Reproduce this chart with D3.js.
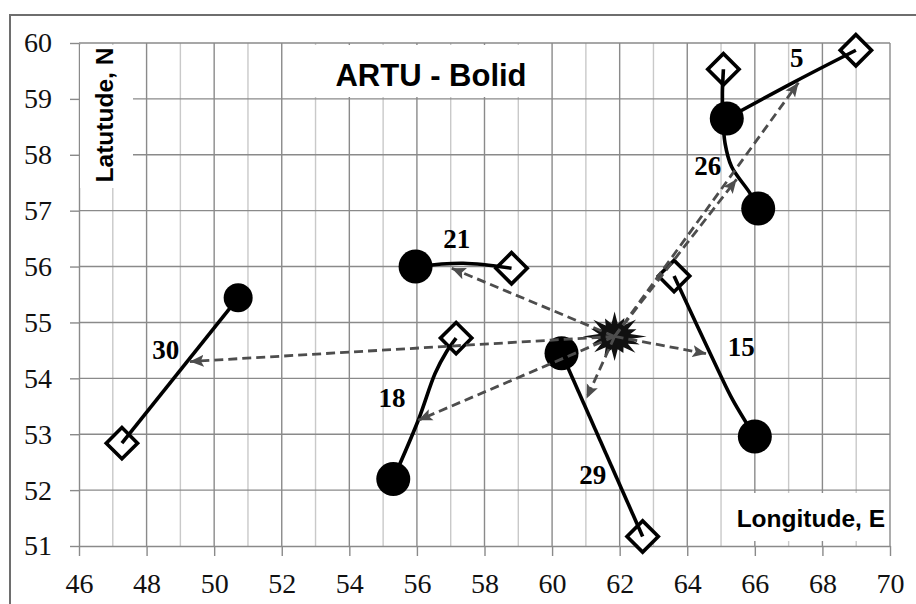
<!DOCTYPE html>
<html>
<head>
<meta charset="utf-8">
<script src="https://cdn.jsdelivr.net/npm/d3@7"></script>
<style>
  html, body { margin: 0; padding: 0; background: #fff; }
  svg { display: block; }
</style>
</head>
<body>
<svg id="chart" width="916" height="604"></svg>
<script>
// Axis ticks
const xTickValues = [46, 48, 50, 52, 54, 56, 58, 60, 62, 64, 66, 68, 70];
const yTickValues = [51, 52, 53, 54, 55, 56, 57, 58, 59, 60];

// Bolide tracks: start point (filled circle) to end point (open diamond)
const trackIds = ["30", "21", "18", "29", "15", "26", "5"];
const startLon = [50.71, 55.96, 55.30, 60.28, 66.00, 66.10, 65.17];
const startLat = [55.44, 56.00, 52.20, 54.45, 52.96, 57.04, 58.65];
const endLon   = [47.27, 58.80, 57.16, 62.68, 63.61, 65.07, 68.99];
const endLat   = [52.84, 55.97, 54.72, 51.17, 55.83, 59.53, 59.87];

// Intermediate points of each track, [lon, lat]
const via30 = [];
const via21 = [[57.37, 56.06]];
const via18 = [[56.04, 53.25], [56.54, 54.09], [56.88, 54.48]];
const via29 = [];
const via15 = [[65.35, 53.61], [64.91, 54.15]];
const via26 = [[65.86, 57.31], [65.31, 57.79], [65.12, 58.20], [65.05, 58.70], [65.04, 59.10]];
const via5  = [[67.19, 59.31]];
const trackVia = [via30, via21, via18, via29, via15, via26, via5];

// Track label anchors
const labelLon = [48.57, 57.18, 55.26, 61.20, 65.60, 64.61, 67.24];
const labelLat = [54.51, 56.49, 53.65, 52.27, 54.56, 57.80, 59.73];

// ARTU station and direction arrows to each track
const stationLon = 61.85;
const stationLat = 54.75;
const arrowLon = [49.28, 57.03, 56.04, 61.02, 64.57, 65.46, 67.29];
const arrowLat = [54.30, 55.97, 53.25, 53.64, 54.44, 57.56, 59.29];

const svg = d3.select("#chart");

const x = d3.scaleLinear().domain([46, 70]).range([79, 890]);
const y = d3.scaleLinear().domain([51, 60]).range([546, 43]);

// outer frame (open to the right and bottom)
svg.append("rect")
  .attr("x", 10).attr("y", 15).attr("width", 940).attr("height", 640)
  .attr("fill", "none").attr("stroke", "#6e6e6e").attr("stroke-width", 2);

// grid
const grid = svg.append("g");
grid.selectAll("line.v")
  .data(d3.range(47, 70))
  .join("line")
  .attr("x1", d => x(d)).attr("x2", d => x(d))
  .attr("y1", y(51)).attr("y2", y(60))
  .attr("stroke", d => d % 2 === 0 ? "#8a8a8a" : "#c9c9c9")
  .attr("stroke-width", 1.4);
grid.selectAll("line.h")
  .data(d3.range(52, 61))
  .join("line")
  .attr("x1", x(46)).attr("x2", x(70))
  .attr("y1", d => y(d)).attr("y2", d => y(d))
  .attr("stroke", "#8a8a8a")
  .attr("stroke-width", 1.4);
grid.append("line")
  .attr("x1", x(70)).attr("x2", x(70)).attr("y1", y(51)).attr("y2", y(60))
  .attr("stroke", "#8a8a8a").attr("stroke-width", 1.4);

// axes
const yAxis = svg.append("g")
  .attr("transform", `translate(${x(46)},0)`)
  .call(d3.axisLeft(y).tickValues(yTickValues).tickSizeInner(9).tickSizeOuter(0).tickPadding(18).tickFormat(d3.format("d")));
const xAxis = svg.append("g")
  .attr("transform", `translate(0,${y(51)})`)
  .call(d3.axisBottom(x).tickValues(xTickValues).tickSizeInner(10).tickSizeOuter(0).tickPadding(17).tickFormat(d3.format("d")));
[xAxis, yAxis].forEach(a => {
  a.select(".domain").attr("stroke", "#8a8a8a").attr("stroke-width", 1.4);
  a.selectAll(".tick line").attr("stroke", "#8a8a8a").attr("stroke-width", 1.4);
  a.selectAll(".tick text")
    .attr("font-family", "'Liberation Serif', 'Times New Roman', serif")
    .attr("font-size", 28).attr("fill", "#111");
});

// white label panels over the grid
const panels = svg.append("g").attr("fill", "#fff");
panels.append("rect").attr("x", 80).attr("y", 45).attr("width", 53).attr("height", 143);
panels.append("rect").attr("x", 300).attr("y", 45).attr("width", 246).attr("height", 52);
panels.append("rect").attr("x", 724).attr("y", 493).attr("width", 164).attr("height", 48);

const sans = "'Liberation Sans', Arial, sans-serif";
svg.append("text")
  .attr("x", 431).attr("y", 86)
  .attr("text-anchor", "middle")
  .attr("font-family", sans).attr("font-weight", "bold").attr("font-size", 31)
  .text("ARTU - Bolid");
svg.append("text")
  .attr("transform", "translate(113,115) rotate(-90)")
  .attr("text-anchor", "middle")
  .attr("font-family", sans).attr("font-weight", "bold").attr("font-size", 24.5)
  .text("Latutude, N");
svg.append("text")
  .attr("x", 885).attr("y", 527)
  .attr("text-anchor", "end")
  .attr("font-family", sans).attr("font-weight", "bold").attr("font-size", 24.5)
  .text("Longitude, E");

// tracks
const tracks = trackIds.map((id, i) => ({
  id,
  start: [startLon[i], startLat[i]],
  end: [endLon[i], endLat[i]],
  points: [[startLon[i], startLat[i]], ...trackVia[i], [endLon[i], endLat[i]]],
  label: [labelLon[i], labelLat[i]],
  arrow: [arrowLon[i], arrowLat[i]]
}));

const line = d3.line()
  .x(d => x(d[0])).y(d => y(d[1]))
  .curve(d3.curveCatmullRom.alpha(0.5));

const markerRadius = id => id === "30" ? 14.5 : 17;

// end diamonds
svg.append("g").selectAll("path")
  .data(tracks)
  .join("path")
  .attr("transform", d => `translate(${x(d.end[0])},${y(d.end[1])}) rotate(45)`)
  .attr("d", d3.symbol(d3.symbolSquare, 490))
  .attr("fill", "#fff").attr("stroke", "#000").attr("stroke-width", 3.6);

// track lines
svg.append("g").selectAll("path")
  .data(tracks)
  .join("path")
  .attr("d", d => line(d.points))
  .attr("fill", "none").attr("stroke", "#000").attr("stroke-width", 3.6);

// start circles
svg.append("g").selectAll("circle")
  .data(tracks)
  .join("circle")
  .attr("cx", d => x(d.start[0])).attr("cy", d => y(d.start[1]))
  .attr("r", d => markerRadius(d.id))
  .attr("fill", "#000");

// track numbers
svg.append("g").selectAll("text")
  .data(tracks)
  .join("text")
  .attr("x", d => x(d.label[0])).attr("y", d => y(d.label[1]))
  .attr("dy", "0.34em")
  .attr("text-anchor", "middle")
  .attr("font-family", "'Liberation Serif', 'Times New Roman', serif")
  .attr("font-weight", "bold").attr("font-size", 27)
  .text(d => d.id);

// station burst
const sx = x(stationLon), sy = y(stationLat);
const burstOuter = [1.0, 0.8, 0.95, 0.74, 1.0, 0.85, 0.92, 0.72, 0.98, 0.82, 0.9, 0.76, 1.0, 0.8, 0.94, 0.78];
const burstPts = [];
burstOuter.forEach((r, k) => {
  const a0 = (k / burstOuter.length) * 2 * Math.PI;
  const a1 = ((k + 0.5) / burstOuter.length) * 2 * Math.PI;
  burstPts.push([sx + Math.sin(a0) * 32 * r, sy - Math.cos(a0) * 25 * r]);
  burstPts.push([sx + Math.sin(a1) * 16, sy - Math.cos(a1) * 13]);
});
svg.append("path")
  .attr("d", d3.line()(burstPts) + "Z")
  .attr("fill", "#111");

// direction arrows from the station
const defs = svg.append("defs");
defs.append("marker")
  .attr("id", "head")
  .attr("markerUnits", "userSpaceOnUse")
  .attr("markerWidth", 16).attr("markerHeight", 14)
  .attr("viewBox", "0 0 16 14")
  .attr("refX", 14).attr("refY", 7)
  .attr("orient", "auto")
  .append("path")
  .attr("d", "M0,1 L14,7 L0,13 L3,7 Z")
  .attr("fill", "#4d4d4d").attr("stroke", "none");

svg.append("g").selectAll("line")
  .data(tracks)
  .join("line")
  .attr("x1", sx).attr("y1", sy)
  .attr("x2", d => x(d.arrow[0])).attr("y2", d => y(d.arrow[1]))
  .attr("stroke", "#4d4d4d").attr("stroke-width", 2.8)
  .attr("stroke-dasharray", "9,5")
  .attr("marker-end", "url(#head)");
</script>
</body>
</html>
